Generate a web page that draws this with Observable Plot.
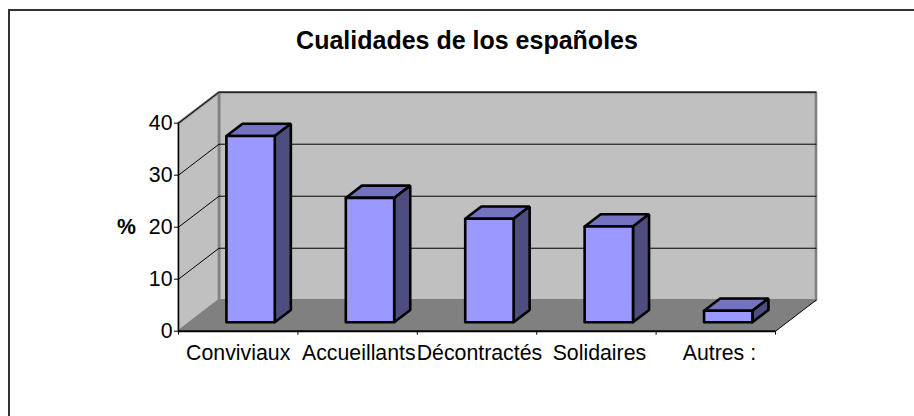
<!DOCTYPE html>
<html>
<head>
<meta charset="utf-8">
<script src="https://cdn.jsdelivr.net/npm/d3@7"></script>
<script src="https://cdn.jsdelivr.net/npm/@observablehq/plot@0.6"></script>
<style>
  html, body { margin: 0; padding: 0; background: #fff; width: 914px; height: 416px; overflow: hidden; }
  #chart { position: relative; width: 914px; height: 416px; }
  #frame { position: absolute; left: 8px; top: 9px; right: 0; bottom: 0; border-top: 2px solid #333; border-left: 2px solid #333; box-sizing: border-box; }
  #title { position: absolute; left: 0; width: 934px; top: 26px; text-align: center; font: bold 25px "Liberation Sans", Arial, sans-serif; color: #000; }
  svg { position: absolute; left: 0; top: 0; }
</style>
</head>
<body>
<div id="chart"><div id="frame"></div><div id="title">Cualidades de los españoles</div></div>
<script>
const categories = ["Conviviaux", "Accueillants", "Décontractés", "Solidaires", "Autres :"];
const labelPositions = [0.5, 1.51, 2.52, 3.525, 4.53];
const values = [35.8, 23.9, 19.9, 18.4, 2.2];
const yTicks = [0, 10, 20, 30, 40];
const yMax = 40;
const n = categories.length;

// Oblique depth projection, in data units
const depthX = 0.339, depthY = 5.95;
const X = (u, z) => u + z * depthX;
const Y = (v, z) => v + z * depthY;
const pt = (poly, u, v, z) => ({poly, x: X(u, z), y: Y(v, z)});
const face = (poly, corners) => corners.concat([corners[0]]).map(([u, v, z]) => pt(poly, u, v, z));

const floor = face("floor", [[0, 0, 0], [n, 0, 0], [n, 0, 1], [0, 0, 1]]);
const back = face("back", [[0, 0, 1], [n, 0, 1], [n, yMax, 1], [0, yMax, 1]]);
const side = face("side", [[0, 0, 0], [0, 0, 1], [0, yMax, 1], [0, yMax, 0]]);

const grid = yTicks.filter(v => v > 0).flatMap(v => [
  pt("g" + v, 0, v, 0), pt("g" + v, 0, v, 1), pt("g" + v, n, v, 1)
]);

const barStart = 0.303, barEnd = 0.708, z0 = 0.29, z1 = 0.687;
const fronts = values.flatMap((v, i) => face("f" + i, [[i + barStart, 0, z0], [i + barEnd, 0, z0], [i + barEnd, v, z0], [i + barStart, v, z0]]));
const tops = values.flatMap((v, i) => face("t" + i, [[i + barStart, v, z0], [i + barEnd, v, z0], [i + barEnd, v, z1], [i + barStart, v, z1]]));
const sides = values.flatMap((v, i) => face("s" + i, [[i + barEnd, 0, z0], [i + barEnd, 0, z1], [i + barEnd, v, z1], [i + barEnd, v, z0]]));

const poly = (data, fill, stroke, strokeWidth) => Plot.line(data, {
  x: "x", y: "y", z: "poly", fill, stroke, strokeWidth, curve: "linear", strokeLinejoin: "miter"
});

const plot = Plot.plot({
  width: 914,
  height: 416,
  marginLeft: 178,
  marginRight: 98.5,
  marginTop: 91.7,
  marginBottom: 85.3,
  style: {fontFamily: '"Liberation Sans", Arial, sans-serif', fontSize: "21.3px", color: "#000", background: "transparent"},
  x: {domain: [0, X(n, 1)]},
  y: {domain: [0, Y(yMax, 1)]},
  marks: [
    poly(floor, "#808080", "none", 0),
    poly(back, "#c0c0c0", "#808080", 2.6),
    poly(side, "#c0c0c0", "#808080", 2.6),
    Plot.line(grid, {x: "x", y: "y", z: "poly", stroke: "#000", strokeWidth: 1, curve: "linear"}),
    Plot.line([pt("e", n, 0, 0), pt("e", n, 0, 1)], {x: "x", y: "y", z: "poly", stroke: "#000", strokeWidth: 1, curve: "linear"}),
    Plot.ruleX([0], {y1: 0, y2: yMax, stroke: "#000", strokeWidth: 1}),
    Plot.ruleY([0], {x1: 0, x2: n, stroke: "#000", strokeWidth: 2}),
    poly(tops, "#7373bf", "#000", 2.6),
    poly(sides, "#4d4d80", "#000", 2.6),
    poly(fronts, "#9999ff", "#000", 2.6),
    Plot.axisY({ticks: yTicks, tickSize: 4, tickPadding: 2, label: null, tickFormat: d3.format("d"), strokeWidth: 1}),
    Plot.axisX({ticks: d3.range(n + 1), tickSize: 4, tickFormat: () => "", label: null}),
    Plot.axisX({ticks: labelPositions, tickSize: 0, tickPadding: 14, label: null, tickFormat: (_, i) => categories[i]}),
    Plot.text(["%"], {x: 0, y: 20, dx: -52, fontWeight: "bold", fontSize: 21.3})
  ]
});
document.getElementById("chart").appendChild(plot);
</script>
</body>
</html>
